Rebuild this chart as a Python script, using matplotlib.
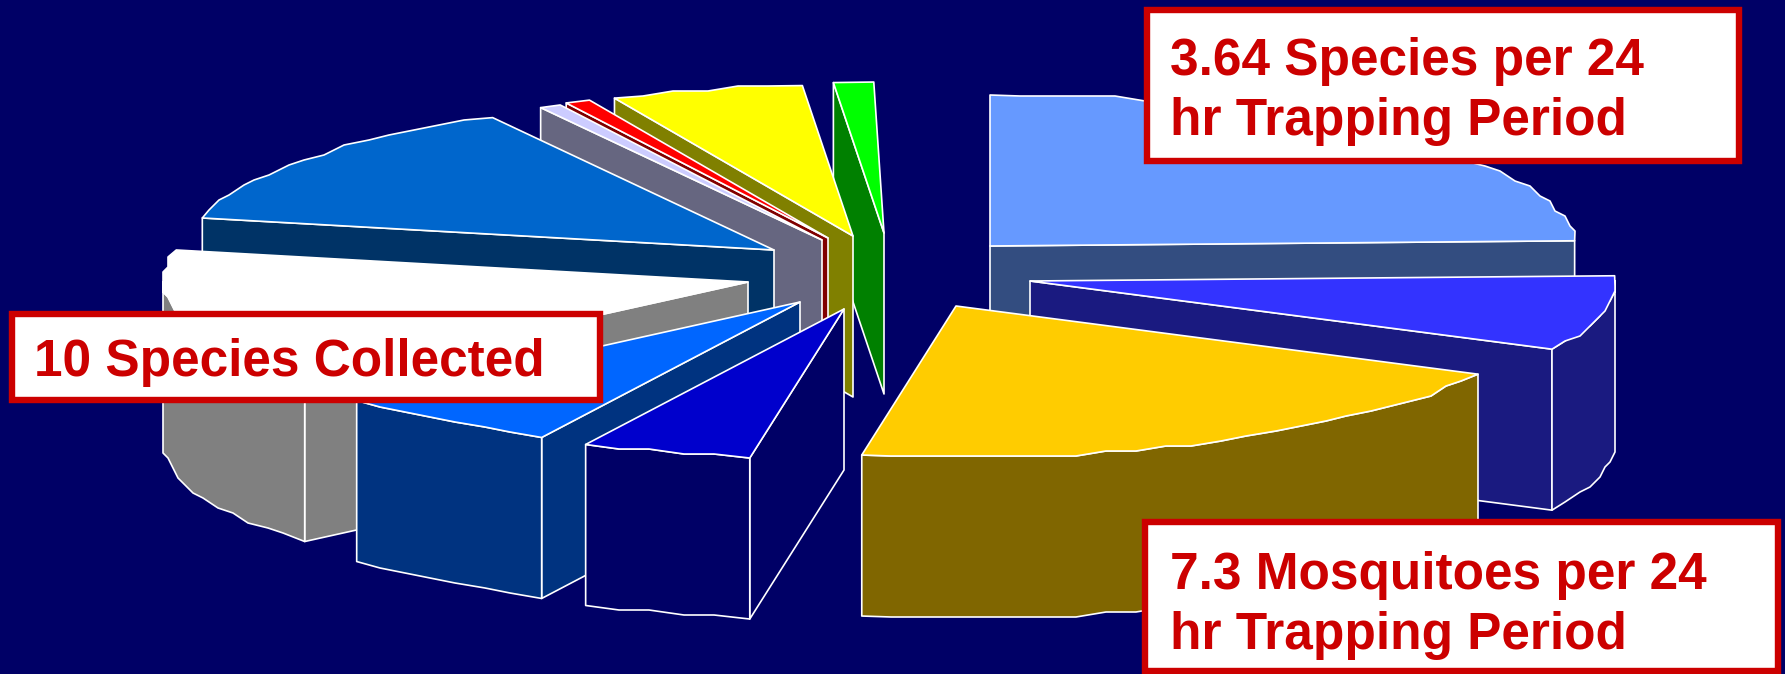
import numpy as np
import matplotlib
matplotlib.use('Agg')
import matplotlib.pyplot as plt
from matplotlib.patches import Polygon, Rectangle

# slice shares in percent, clockwise from 12 o'clock
shares = [24.7, 8.0, 20.1, 4.7, 6.4, 14.7, 13.6, 0.6, 0.7, 5.3, 1.1]
top_colors = ['#6699ff', '#3333ff', '#ffcc00', '#0000cc', '#0066ff', '#ffffff',
              '#0066cc', '#ccccff', '#ff0000', '#ffff00', '#00ff00']
side_colors = ['#334d80', '#1a1a80', '#806600', '#000066', '#003380', '#808080',
               '#003366', '#666680', '#800000', '#808000', '#008000']

# where each exploded slice has its point, in pixels
apex_x = [990, 1030, 956, 844, 800, 748, 774, 822, 828, 853, 884]
apex_y = [246, 281, 306, 309, 302, 282, 250, 240, 238, 236, 233]
draw_order = [10, 9, 8, 7, 6, 5, 4, 3, 0, 1, 2]

notes = [(1144, 7, 598, 157, ['3.64 Species per 24', 'hr Trapping Period'], 1170, [75, 135]),
         (9, 311, 594, 92, ['10 Species Collected'], 34, [376]),
         (1142, 519, 639, 155, ['7.3 Mosquitoes per 24', 'hr Trapping Period'], 1170, [589, 649])]

RX, RY = 585, 151
DEPTH = 161
GRID = 5
BG = '#000066'
EDGE = dict(edgecolor='white', linewidth=1.2, joinstyle='round')


def rim(t0, t1):
    # outer edge of a slice, snapped to a coarse grid so it steps like the old vector art
    n = max(int(abs(t1 - t0) / 3), 1)
    ts = np.linspace(t0, t1, n + 1)
    xs = RX * np.cos(np.radians(ts))
    ys = -RY * np.sin(np.radians(ts))
    xs[1:-1] = np.round(xs[1:-1] / GRID) * GRID
    ys[1:-1] = np.round(ys[1:-1] / GRID) * GRID
    return np.column_stack([xs, ys])


def draw_slice(ax, ax0, ay0, t0, t1, top, side):
    apex = np.array([ax0, ay0])
    down = np.array([0, DEPTH])
    edge = rim(t0, t1) + apex

    # side walls that face the viewer
    if np.cos(np.radians(t0)) < 0:
        ax.add_patch(Polygon([apex, edge[0], edge[0] + down, apex + down], facecolor=side, **EDGE))
    if np.cos(np.radians(t1)) > 0:
        ax.add_patch(Polygon([apex, edge[-1], edge[-1] + down, apex + down], facecolor=side, **EDGE))

    # curved wall, only on the front half of the ellipse
    lo, hi = max(t1, -180), min(t0, 0)
    if t1 < -180:
        lo = max(t1, -180)
    if lo < hi:
        front = rim(hi, lo) + apex
        ax.add_patch(Polygon(np.vstack([front, front[::-1] + down]), facecolor=side, **EDGE))

    ax.add_patch(Polygon(np.vstack([apex, edge]), facecolor=top, **EDGE))


fig = plt.figure(figsize=(17.85, 6.74), dpi=100, facecolor=BG)
ax = fig.add_axes([0, 0, 1, 1])
ax.set_xlim(0, 1785)
ax.set_ylim(674, 0)
ax.axis('off')

deg = np.array(shares) / sum(shares) * 360
ends = 91 - np.cumsum(deg)
starts = ends + deg
starts[0] = 90

for i in draw_order:
    draw_slice(ax, apex_x[i], apex_y[i], starts[i], ends[i], top_colors[i], side_colors[i])

for x, y, w, h, lines, tx, bases in notes:
    ax.add_patch(Rectangle((x + 3, y + 3), w - 6, h - 6, facecolor='white',
                           edgecolor='#cc0000', linewidth=4.6, zorder=5))
    for line, by in zip(lines, bases):
        ax.text(tx, by, line, color='#cc0000', fontsize=37, fontweight='bold',
                family='Liberation Sans', va='baseline', ha='left', zorder=6)

fig.savefig('out.png', dpi=100, facecolor=BG)
